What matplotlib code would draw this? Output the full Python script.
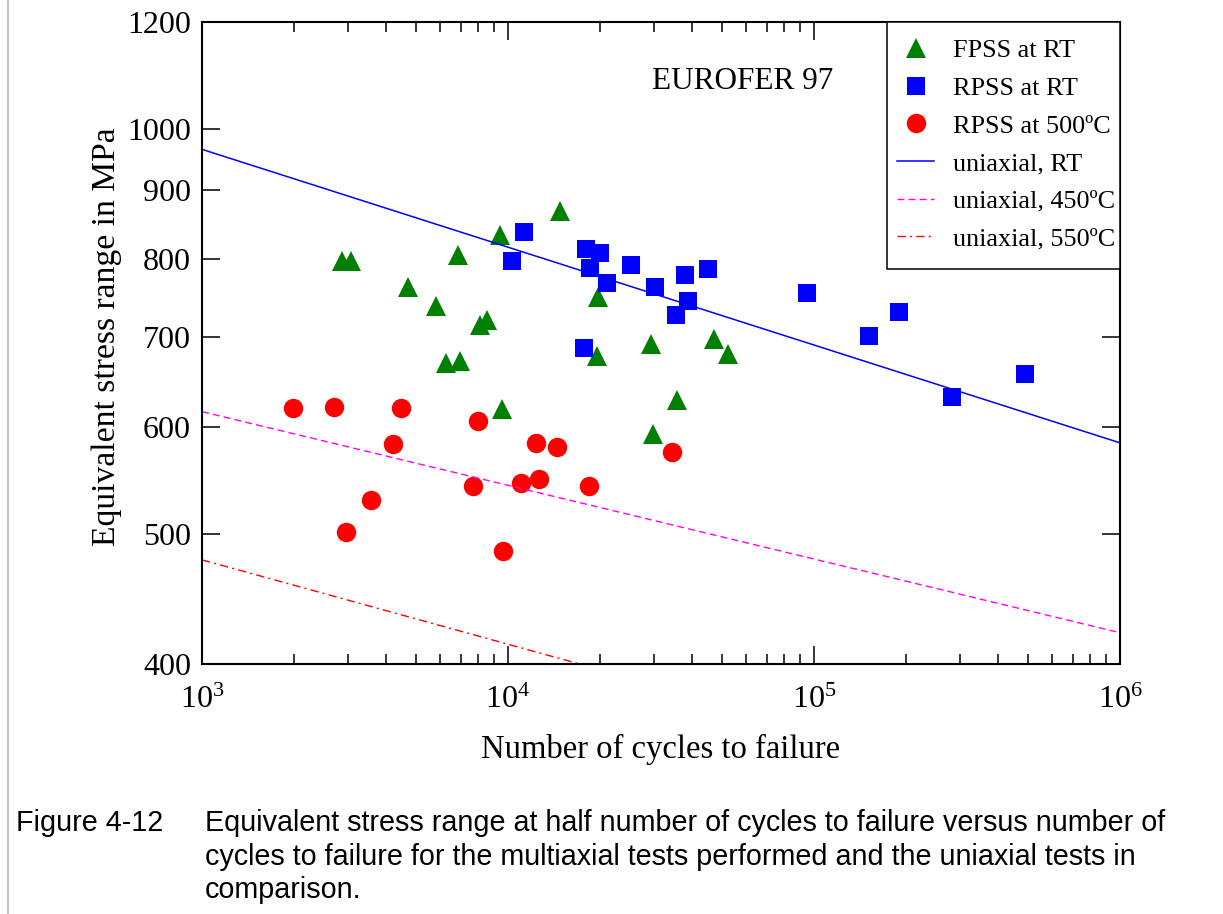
import matplotlib
matplotlib.use("Agg")
import matplotlib.pyplot as plt
from matplotlib.lines import Line2D
from matplotlib.patches import Rectangle
from matplotlib.ticker import FixedLocator, LogLocator, NullFormatter, FixedFormatter

plt.rcParams['font.family'] = ['Liberation Serif', 'DejaVu Serif']
plt.rcParams['mathtext.fontset'] = 'custom'
plt.rcParams['mathtext.rm'] = 'Liberation Serif'
plt.rcParams['mathtext.it'] = 'Liberation Serif:italic'
plt.rcParams['mathtext.bf'] = 'Liberation Serif:bold'

# ---- data ----
fpss_rt_n = [2867, 3057, 4712, 5818, 6864, 6295, 6968, 8071, 8540, 9417, 9559,
             14843, 19611, 19535, 29330, 29780, 35800, 47120, 52160]
fpss_rt_s = [797, 797, 762, 738, 805, 669, 672, 714, 721, 834, 619,
             868, 750, 677, 692, 593, 628, 697, 680]

rpss_rt_n = [11280, 10340, 17920, 19980, 18600, 21060, 25140, 30120, 37880, 45040,
             38740, 35400, 17780, 94520, 151200, 189600, 282500, 487500]
rpss_rt_s = [838, 797, 814, 808, 788, 768, 792, 762, 778, 787,
             745, 727, 687, 755, 701, 730, 632, 657]

rpss_500_n = [1983, 2701, 4470, 8009, 4209, 2955, 3567, 7685, 11030, 12340,
              14460, 12670, 18460, 9632, 34480]
rpss_500_s = [620, 621, 620, 606, 583, 501, 530, 542, 545, 584,
              580, 549, 542, 485, 575]

uni_n = [1e3, 1e6]
uni_rt_s = [965, 584]
uni_450_s = [616, 422]
uni_550_s = [478, 310]

y_ticks = [400, 500, 600, 700, 800, 900, 1000, 1200]
x_ticks = [1e3, 1e4, 1e5, 1e6]
x_ticklabels = [r'$10^3$', r'$10^4$', r'$10^5$', r'$10^6$']

labels = ['FPSS at RT', 'RPSS at RT', 'RPSS at 500ºC',
          'uniaxial, RT', 'uniaxial, 450ºC', 'uniaxial, 550ºC']

caption_label = 'Figure 4-12'
caption_lines = [
    'Equivalent stress range at half number of cycles to failure versus number of',
    'cycles to failure for the multiaxial tests performed and the uniaxial tests in',
    'comparison.',
]

# ---- figure ----
W, H = 1223, 914
fig = plt.figure(figsize=(W / 100, H / 100), dpi=100)
L, R, T, B = 202, 1120, 22, 664
ax = fig.add_axes([L / W, 1 - B / H, (R - L) / W, (B - T) / H])

ax.set_xscale('log')
ax.set_yscale('log')
ax.set_xlim(1e3, 1e6)
ax.set_ylim(400, 1200)

ax.plot(fpss_rt_n, fpss_rt_s, linestyle='none', marker='^', markersize=14,
        color='#008000', markeredgewidth=0, label=labels[0])
ax.plot(rpss_rt_n, rpss_rt_s, linestyle='none', marker='s', markersize=12.3,
        color='#0000ff', markeredgewidth=0, label=labels[1])
ax.plot(rpss_500_n, rpss_500_s, linestyle='none', marker='o', markersize=14,
        color='#ff0000', markeredgewidth=0, label=labels[2])
ax.plot(uni_n, uni_rt_s, color='#0000ff', lw=1.1, label=labels[3])
ax.plot(uni_n, uni_450_s, color='#ff00ff', lw=1.0, dashes=(5, 3), label=labels[4])
ax.plot(uni_n, uni_550_s, color='#ff0000', lw=1.0, dashes=(6, 3, 1.5, 3), label=labels[5])

# ticks
ax.yaxis.set_major_locator(FixedLocator(y_ticks))
ax.yaxis.set_major_formatter(FixedFormatter([str(v) for v in y_ticks]))
ax.yaxis.set_minor_locator(FixedLocator([]))
ax.yaxis.set_minor_formatter(NullFormatter())
ax.xaxis.set_major_locator(FixedLocator(x_ticks))
ax.xaxis.set_major_formatter(FixedFormatter(x_ticklabels))
ax.xaxis.set_minor_locator(LogLocator(base=10, subs=range(2, 10)))
ax.xaxis.set_minor_formatter(NullFormatter())

ax.tick_params(which='both', direction='in', top=True, right=True, width=1.1, colors='black')
ax.tick_params(which='major', length=13, labelsize=23, pad=8)
ax.tick_params(which='minor', length=7)
ax.tick_params(axis='x', which='major', pad=16)
for s in ax.spines.values():
    s.set_linewidth(1.5)

ax.set_xlabel('Number of cycles to failure', fontsize=23.5, labelpad=13)
ax.set_ylabel('Equivalent stress range in MPa', fontsize=24.2)
ax.yaxis.set_label_coords(-(L - 122) / (R - L), (B - 336.5) / (B - T))

fig.text(652 / W, 1 - 81.5 / H, 'EUROFER 97', fontsize=22.5, va='center', ha='left')

# legend: frame drawn as a rectangle inside the axes, contents placed on top
box_l, box_t, box_r, box_b = 887, 22, 1120, 269
frame = Rectangle((box_l / W, 1 - box_b / H), (box_r - box_l) / W,
                  (box_b - box_t) / H, transform=fig.transFigure,
                  facecolor='white', edgecolor='black', lw=1.1, zorder=4, clip_on=False)
ax.add_patch(frame)
leg = ax.legend(loc='upper left', bbox_to_anchor=(897 / W, 1 - 39 / H),
                bbox_transform=fig.transFigure, frameon=False, borderpad=0,
                borderaxespad=0, fontsize=18.8, handlelength=1.42, handletextpad=0.72,
                labelspacing=0.55, numpoints=1)
leg.set_zorder(6)

# caption
cap_font = ['Liberation Sans', 'DejaVu Sans']
cap_y = [823, 857, 890]
fig.text(16 / W, 1 - cap_y[0] / H, caption_label, family=cap_font, fontsize=20.7,
         va='center', ha='left')
for line, yy in zip(caption_lines, cap_y):
    fig.text(205 / W, 1 - yy / H, line, family=cap_font, fontsize=20.7,
             va='center', ha='left')

fig.add_artist(Line2D([7.5 / W, 7.5 / W], [0, 1], color='#c4c4c4', lw=1.5,
                      transform=fig.transFigure))

fig.savefig('out.png', dpi=100)
